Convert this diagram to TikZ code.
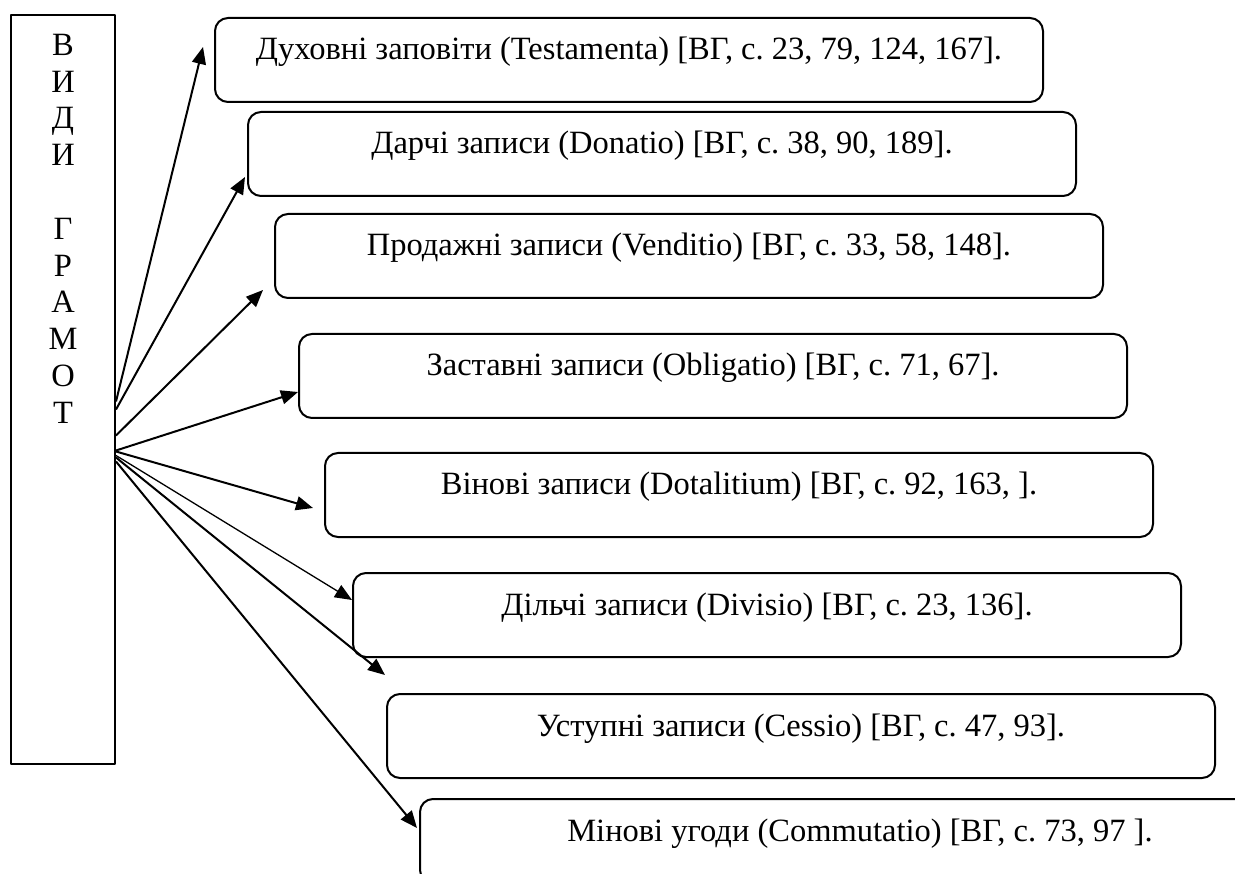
\documentclass[tikz,border=0pt]{standalone}
\usepackage{fontspec}
\setmainfont{Liberation Serif}
\usetikzlibrary{arrows.meta}
\frenchspacing
\tikzset{
  zapys/.style={draw, line width=2pt, rounded corners=13pt, anchor=north west,
    minimum width=828pt, minimum height=84pt, inner sep=0pt,
    text height=22pt, text depth=22pt},
  strilka/.style={-{Triangle[length=17pt,width=14pt]}, line width=2pt},
}
\begin{document}
\begin{tikzpicture}[x=1pt, y=-1pt, font=\fontsize{32.5}{36.8}\selectfont, line join=round]
\clip (0,0) rectangle (1235,874);
% vertical title box
\node[draw, line width=2pt, anchor=north west, minimum width=104pt, minimum height=749pt, inner sep=0pt] (vydy) at (10,14)
  {\parbox[c][749pt][t]{104pt}{\centering\vspace*{19pt}В\\И\\Д\\И\\[36.8pt]Г\\Р\\А\\М\\О\\Т}};
% kinds of charters
\node[zapys] (b1) at (214,17)  {Духовні заповіти (Testamenta) [ВГ, с. 23, 79, 124, 167].};
\node[zapys] (b2) at (247,111) {Дарчі записи (Donatio) [ВГ, с. 38, 90, 189].};
\node[zapys] (b3) at (274,213) {Продажні записи (Venditio) [ВГ, с. 33, 58, 148].};
\node[zapys] (b4) at (298,333) {Заставні записи (Obligatio) [ВГ, с. 71, 67].};
\node[zapys] (b5) at (324,452) {Вінові записи (Dotalitium) [ВГ, с. 92, 163, ].};
\node[zapys] (b6) at (352,572) {Дільчі записи (Divisio) [ВГ, с. 23, 136].};
\node[zapys] (b7) at (386,693) {Уступні записи (Cessio) [ВГ, с. 47, 93].};
\node[zapys, minimum width=880pt] (b8) at (419,798) {Мінові угоди (Commutatio) [ВГ, с. 73, 97 ].};
% arrow starts
\coordinate (v1) at ([yshift=-12pt]vydy.east);
\coordinate (v2) at ([yshift=-20pt]vydy.east);
\coordinate (v3) at ([yshift=-46pt]vydy.east);
\coordinate (v4) at ([yshift=-61pt]vydy.east);
\coordinate (v5) at ([yshift=-62pt]vydy.east);
\coordinate (v6) at ([yshift=-66pt]vydy.east);
\coordinate (v7) at ([yshift=-68pt]vydy.east);
\coordinate (v8) at ([yshift=-72pt]vydy.east);
% arrow tips
\coordinate (t1) at (203,47);
\coordinate (t2) at (245,177);
\coordinate (t3) at (263,290);
\coordinate (t4) at (298,392);
\coordinate (t5) at (313,508);
\coordinate (t6) at (352,600);
\coordinate (t7) at (385,675);
\coordinate (t8) at (417,828);
\draw[strilka] (v1) -- (t1);
\draw[strilka] (v2) -- (t2);
\draw[strilka] (v3) -- (t3);
\draw[strilka] (v4) -- (t4);
\draw[strilka] (v5) -- (t5);
\draw[strilka, line width=1.3pt] (v6) -- (t6);
\draw[strilka] (v7) -- (t7);
\draw[strilka] (v8) -- (t8);
\end{tikzpicture}
\end{document}
